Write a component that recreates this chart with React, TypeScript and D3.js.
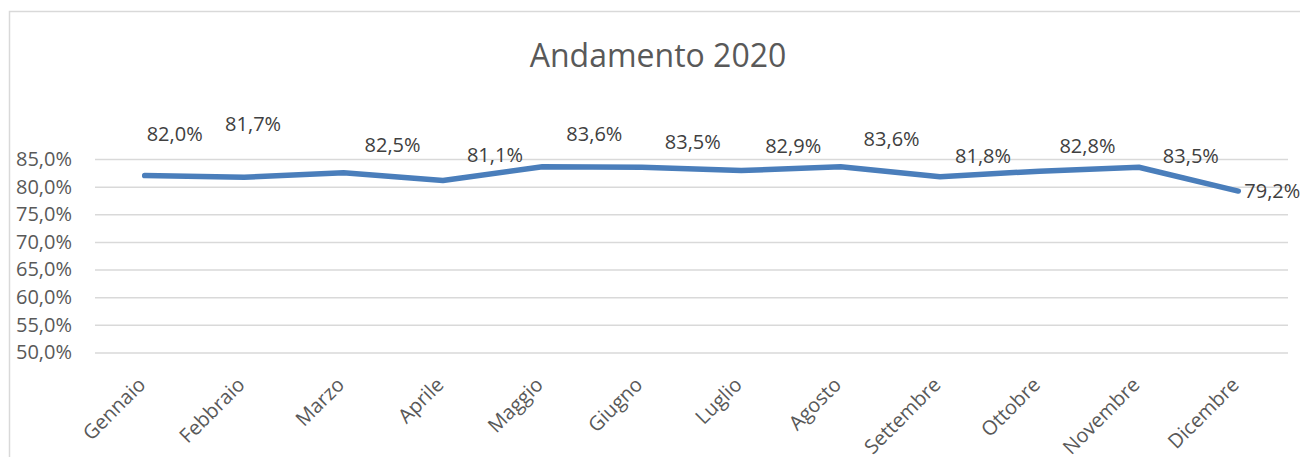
import React, { useEffect, useRef } from 'react';
import { select, scalePoint, scaleLinear, axisLeft, line, format } from 'd3';

const months = [
  'Gennaio', 'Febbraio', 'Marzo', 'Aprile', 'Maggio', 'Giugno',
  'Luglio', 'Agosto', 'Settembre', 'Ottobre', 'Novembre', 'Dicembre',
];
const values = [0.82, 0.817, 0.825, 0.811, 0.836, 0.835, 0.829, 0.836, 0.818, 0.828, 0.835, 0.792];
const yTicks = [0.5, 0.55, 0.6, 0.65, 0.7, 0.75, 0.8, 0.85];

// labels were dragged by hand in the original, so each one has its own offset
const labelDx = [30, 9, 49, 52, 52, 51, 52, 51, 43, 48, 52, 34];
const labelDy = [-35, -46, -21, -19, -26, -18, -18, -21, -14, -18, -4, 7];

const W = 1300;
const H = 457;
const TEXT = '#595959';
const GRID = '#d9d9d9';
const FONT = '"Open Sans", sans-serif';

const pct = (v: number) => format('.1f')(v * 100).replace('.', ',') + '%';

export default function App() {
  const svgRef = useRef<SVGSVGElement>(null);

  useEffect(() => {
    const svg = select(svgRef.current);
    svg.selectAll('*').remove();

    const x = scalePoint<string>().domain(months).range([95, 1288]).padding(0.5);
    const y = scaleLinear().domain([0.5, 0.85]).range([352.5, 159]);

    // chart frame
    svg
      .append('rect')
      .attr('x', 9.5)
      .attr('y', 11.5)
      .attr('width', W + 20)
      .attr('height', H + 20)
      .attr('fill', '#fff')
      .attr('stroke', GRID)
      .attr('stroke-width', 1.5);

    svg
      .append('text')
      .text('Andamento 2020')
      .attr('x', 658)
      .attr('y', 67)
      .attr('text-anchor', 'middle')
      .attr('font-family', FONT)
      .attr('font-size', 32)
      .attr('fill', TEXT);

    const yAxis = axisLeft(y)
      .tickValues(yTicks)
      .tickFormat((d) => pct(d as number))
      .tickSize(-(1288 - 95))
      .tickPadding(23);

    svg
      .append('g')
      .attr('transform', 'translate(95,0)')
      .call(yAxis)
      .call((g) => g.select('.domain').remove())
      .call((g) => g.selectAll('.tick line').attr('stroke', GRID).attr('stroke-width', 1.5))
      .call((g) =>
        g
          .selectAll('.tick text')
          .attr('fill', TEXT)
          .attr('font-family', FONT)
          .attr('font-size', 20)
      );

    // rotated month labels
    svg
      .append('g')
      .selectAll('text')
      .data(months)
      .join('text')
      .text((d) => d)
      .attr('transform', (d) => `translate(${x(d)! + 2},${386}) rotate(-45)`)
      .attr('text-anchor', 'end')
      .attr('font-family', FONT)
      .attr('font-size', 20)
      .attr('fill', TEXT);

    const lineGen = line<number>()
      .x((_, i) => x(months[i])!)
      .y((d) => y(d));

    svg
      .append('path')
      .datum(values)
      .attr('d', lineGen)
      .attr('fill', 'none')
      .attr('stroke', '#4a7ebb')
      .attr('stroke-width', 5.5)
      .attr('stroke-linecap', 'round')
      .attr('stroke-linejoin', 'round');

    svg
      .append('g')
      .selectAll('text')
      .data(values)
      .join('text')
      .text((d) => pct(d))
      .attr('x', (_, i) => x(months[i])! + labelDx[i])
      .attr('y', (d, i) => y(d) + labelDy[i])
      .attr('text-anchor', 'middle')
      .attr('font-family', FONT)
      .attr('font-size', 20)
      .attr('fill', '#404040');
  }, []);

  return (
    <svg
      ref={svgRef}
      width={W}
      height={H}
      style={{ position: 'absolute', left: 0, top: 0, background: '#fff' }}
    />
  );
}
